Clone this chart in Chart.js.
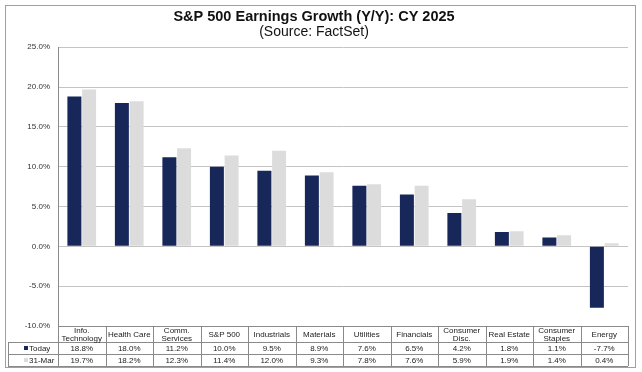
<!DOCTYPE html>
<html><head><meta charset="utf-8">
<script src="https://cdn.jsdelivr.net/npm/chart.js@4"></script>
<style>html,body{margin:0;padding:0;background:#fff}#wrap{width:642px;height:372px;position:relative}</style>
</head><body><div id="wrap"><canvas id="c" width="642" height="372"></canvas></div>
<script>
const categories = [["Info.","Technology"],["Health Care"],["Comm.","Services"],["S&P 500"],["Industrials"],["Materials"],["Utilities"],["Financials"],["Consumer","Disc."],["Real Estate"],["Consumer","Staples"],["Energy"]];
const todayValues = [18.8, 18.0, 11.2, 10.0, 9.5, 8.9, 7.6, 6.5, 4.2, 1.8, 1.1, -7.7];
const marchValues = [19.7, 18.2, 12.3, 11.4, 12.0, 9.3, 7.8, 7.6, 5.9, 1.9, 1.4, 0.4];
const seriesNames = ["Today", "31-Mar"];
const NAVY = "#17275a", GREY = "#dcdcdc";
const FONT = "Liberation Sans, Arial, sans-serif";

const tablePlugin = {
  id: "tablePlugin",
  beforeDraw(chart) {
    const ctx = chart.ctx;
    ctx.save();
    ctx.fillStyle = "#fff";
    ctx.fillRect(0, 0, chart.width, chart.height);
    ctx.strokeStyle = "#a0a0a0";
    ctx.lineWidth = 1;
    ctx.strokeRect(5.5, 5.5, 630, 362);
    ctx.restore();
  },
  afterDraw(chart) {
    const ctx = chart.ctx;
    const xs = chart.scales.x;
    const area = chart.chartArea;
    const n = categories.length;
    const cw = (area.right - area.left) / n;
    const top = area.bottom;
    const hdrBot = top + 16;
    const r1 = hdrBot + 12;
    const r2 = r1 + 12;
    const legL = 8;
    ctx.save();
    ctx.strokeStyle = "#8a8a8a";
    ctx.lineWidth = 1;
    ctx.beginPath();
    ctx.moveTo(area.left, top + 0.5); ctx.lineTo(area.right, top + 0.5);
    ctx.moveTo(legL, hdrBot + 0.5); ctx.lineTo(area.right, hdrBot + 0.5);
    ctx.moveTo(legL, r1 + 0.5); ctx.lineTo(area.right, r1 + 0.5);
    ctx.moveTo(legL, r2 + 0.5); ctx.lineTo(area.right, r2 + 0.5);
    ctx.moveTo(legL + 0.5, hdrBot); ctx.lineTo(legL + 0.5, r2);
    for (let i = 0; i <= n; i++) {
      const x = Math.round(area.left + i * cw) + 0.5;
      ctx.moveTo(x, top); ctx.lineTo(x, r2);
    }
    ctx.stroke();
    ctx.fillStyle = "#222";
    ctx.font = "8px " + FONT;
    ctx.textAlign = "center";
    ctx.textBaseline = "middle";
    for (let i = 0; i < n; i++) {
      const cx = xs.getPixelForValue(i);
      const lines = categories[i];
      const mid = (top + hdrBot) / 2 + 0.5;
      if (lines.length === 1) ctx.fillText(lines[0], cx, mid);
      else { ctx.fillText(lines[0], cx, mid - 4); ctx.fillText(lines[1], cx, mid + 4); }
      ctx.fillText(todayValues[i].toFixed(1) + "%", cx, (hdrBot + r1) / 2 + 0.5);
      ctx.fillText(marchValues[i].toFixed(1) + "%", cx, (r1 + r2) / 2 + 0.5);
    }
    ctx.textAlign = "left";
    ctx.fillStyle = NAVY;
    ctx.fillRect(24, (hdrBot + r1) / 2 - 2, 4, 4);
    ctx.fillStyle = GREY;
    ctx.fillRect(24, (r1 + r2) / 2 - 2, 4, 4);
    ctx.fillStyle = "#222";
    ctx.fillText(seriesNames[0], 29, (hdrBot + r1) / 2 + 0.5);
    ctx.fillText(seriesNames[1], 29, (r1 + r2) / 2 + 0.5);
    ctx.restore();
  }
};

new Chart(document.getElementById("c"), {
  type: "bar",
  data: {
    labels: categories.map(c => c.join(" ")),
    datasets: [
      { label: seriesNames[0], data: todayValues, backgroundColor: NAVY, categoryPercentage: 0.62, barPercentage: 0.95 },
      { label: seriesNames[1], data: marchValues, backgroundColor: GREY, categoryPercentage: 0.62, barPercentage: 0.95 }
    ]
  },
  options: {
    responsive: false,
    animation: false,
    layout: { padding: { left: 0, right: 14, top: 0, bottom: 46 } },
    plugins: {
      legend: { display: false },
      tooltip: { enabled: false },
      title: { display: true, text: "S&P 500 Earnings Growth (Y/Y): CY 2025", color: "#111",
        font: { family: FONT, size: 14.5, weight: "bold", lineHeight: 1.0 }, padding: { top: 10, bottom: 0 } },
      subtitle: { display: true, text: "(Source: FactSet)", color: "#111",
        font: { family: FONT, size: 14, lineHeight: 1.05 }, padding: { top: 0, bottom: 8 } }
    },
    scales: {
      x: { display: false },
      y: {
        min: -10, max: 25,
        afterFit(scale) { scale.width = 58; },
        ticks: { stepSize: 5, padding: 8, color: "#333", font: { family: FONT, size: 8 },
          callback: v => v.toFixed(1) + "%" },
        grid: { color: "#c4c4c4", drawTicks: false },
        border: { display: true, color: "#8a8a8a" }
      }
    }
  },
  plugins: [tablePlugin]
});
</script></body></html>
